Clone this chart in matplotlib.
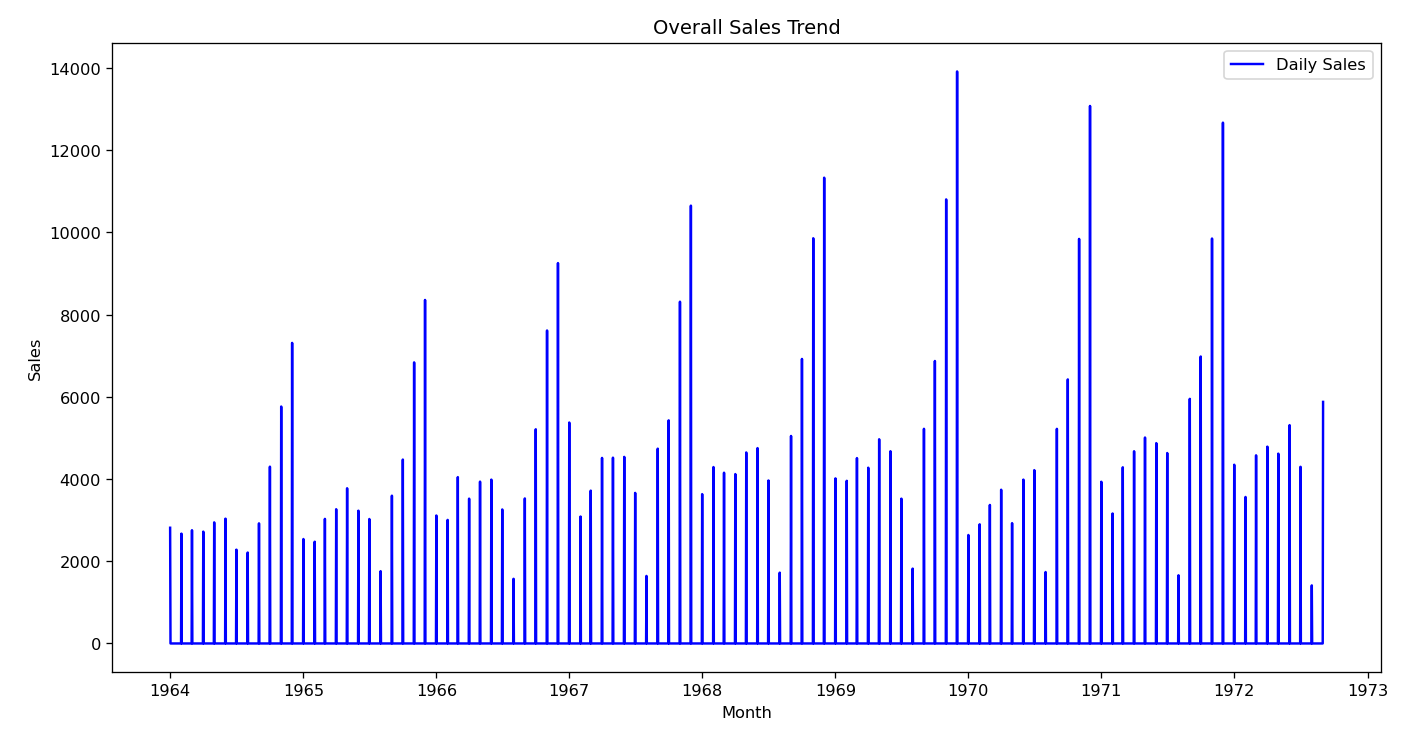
import pandas as pd
import matplotlib
matplotlib.use('Agg')
from matplotlib import pyplot as plt

# monthly champagne sales, Jan 1964 - Sep 1972
sales = [
    2815, 2672, 2755, 2721, 2946, 3036, 2282, 2212, 2922, 4301, 5764, 7312,
    2541, 2475, 3031, 3266, 3776, 3230, 3028, 1759, 3595, 4474, 6838, 8357,
    3113, 3006, 4047, 3523, 3937, 3986, 3260, 1573, 3528, 5211, 7614, 9254,
    5375, 3088, 3718, 4514, 4520, 4539, 3663, 1643, 4739, 5428, 8314, 10651,
    3633, 4292, 4154, 4121, 4647, 4753, 3965, 1723, 5048, 6922, 9858, 11331,
    4016, 3957, 4510, 4276, 4968, 4677, 3523, 1821, 5222, 6872, 10803, 13916,
    2639, 2899, 3370, 3740, 2927, 3986, 4217, 1738, 5221, 6424, 9842, 13076,
    3934, 3162, 4286, 4676, 5010, 4874, 4633, 1659, 5951, 6981, 9851, 12670,
    4348, 3564, 4577, 4788, 4618, 5312, 4298, 1413, 5877,
]
months = pd.date_range('1964-01-01', periods=len(sales), freq='MS')

monthly = pd.Series(sales, index=months)
daily = monthly.resample('D').sum()

fig = plt.figure(figsize=(12, 6.23), dpi=117.17)
plt.plot(daily.index, daily.values, c='blue', label='Daily Sales')
plt.title('Overall Sales Trend')
plt.xlabel('Month')
plt.ylabel('Sales')
plt.legend()
plt.subplots_adjust(left=0.08, right=0.982, top=0.94, bottom=0.078)
plt.savefig('out.png')
